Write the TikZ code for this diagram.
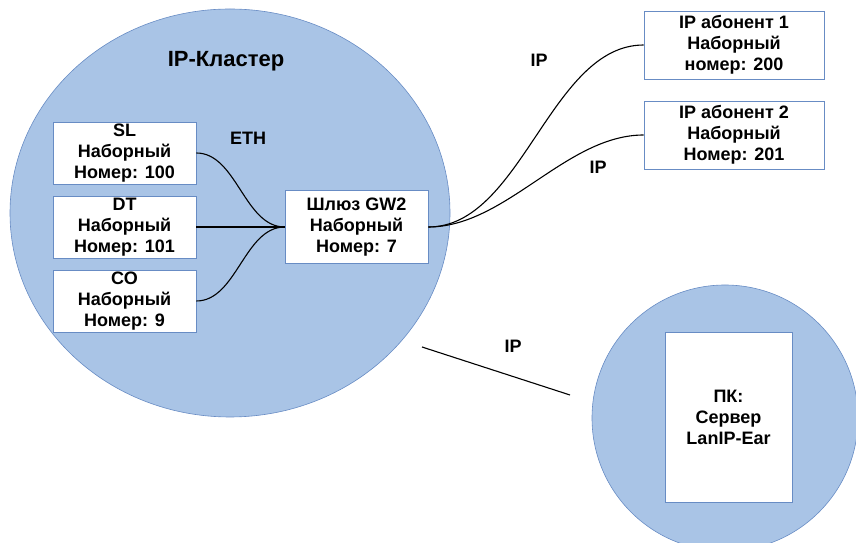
\documentclass[tikz,border=0pt]{standalone}
\usepackage{fontspec}
\setmainfont{Liberation Sans}
\usetikzlibrary{positioning, shapes}
\definecolor{clusterblue}{RGB}{169, 196, 230}
\definecolor{rimblue}{RGB}{104, 140, 196}

\begin{document}
\begin{tikzpicture} [%
    x = 1pt,
    y = 1pt,
    semithick,
    node distance = 74pt,
    on grid,
    font = \fontsize{18}{21}\selectfont\bfseries,
    every box/.style = {%
      draw = rimblue,
      fill = white,
      align = center,
      inner sep = 0pt },
    cloud/.style = {%
      ellipse,
      draw = rimblue,
      fill = clusterblue,
      inner sep = 0pt },
    wire/.style = { draw = black, line width = 1.1pt }
  ]
  \useasboundingbox (0,0) rectangle (856,543);
  \clip (0,0) rectangle (856,543);

  % the two areas
  \node[cloud, minimum width = 440pt, minimum height = 408pt] (C) at (230,330) {};
  \node[cloud, minimum width = 266pt, minimum height = 266pt] (R) at (725,125) {};
  \node[font = \fontsize{22}{26}\selectfont\bfseries] (T) at (226,482) {IP-Кластер};

  % phones inside the cluster
  \tikzset{every box/.append style = {minimum width = 143pt, minimum height = 62pt}}
  \node[every box] (SL) at (124.5,390) {SL\\Наборный\\Номер: 100};
  \node[every box] (DT) [below=of SL] {DT\\Наборный\\Номер: 101};
  \node[every box] (CO) [below=of DT] {CO\\Наборный\\Номер: 9};
  \node[every box, minimum height = 73pt] (GW) [right=232pt of DT] {Шлюз GW2\\Наборный\\Номер: 7};

  % outside subscribers
  \node[every box, minimum width = 180pt, minimum height = 68pt] (A1) at (734,498) {IP абонент 1\\Наборный\\номер: 200};
  \node[every box, minimum width = 180pt, minimum height = 68pt] (A2) [below=90pt of A1] {IP абонент 2\\Наборный\\Номер: 201};
  \node[every box, minimum width = 127pt, minimum height = 170pt] (PC) at (728.5,126) {ПК:\\Сервер\\LanIP-Ear};

  \path[wire]
  (SL.east) edge [out=0, in=180, looseness=0.9] (GW.west)
  (DT.east) edge (GW.west)
  (CO.east) edge [out=0, in=180, looseness=0.9] (GW.west)

  (GW.east) edge [out=0, in=180, looseness=0.85] (A1.west)
  edge [out=0, in=180, looseness=0.85] (A2.west);

  \coordinate (L1) at (422,196);
  \coordinate (L2) at (570,148);
  \draw[wire] (L1) -- (L2);

  \node (ETH) at (248,405) {ETH};
  \node (IPa) at (539,483) {IP};
  \node (IPb) at (598,376) {IP};
  \node (IPc) at (513,197) {IP};
\end{tikzpicture}
\end{document}
